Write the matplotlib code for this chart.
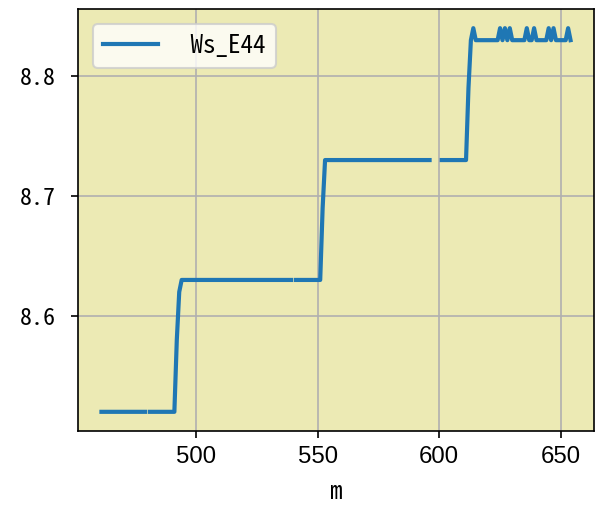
import numpy as np
import matplotlib
matplotlib.use("Agg")
import matplotlib.pyplot as plt

# =========================================================
# DATA
# =========================================================

nan = np.nan

x_m = list(range(461, 655))

# level values per position, gaps are NaN
ws_e44 = (
    [8.52] * 19            # 461-479
    + [nan]                # 480
    + [8.52] * 11          # 481-491
    + [8.58, 8.62]         # 492-493
    + [8.63] * 46          # 494-539
    + [nan]                # 540
    + [8.63] * 11          # 541-551
    + [8.69]               # 552
    + [8.73] * 44          # 553-596
    + [nan] * 4            # 597-600
    + [8.73] * 11          # 601-611
    + [8.79, 8.83, 8.84]   # 612-614
    + [8.83] * 10          # 615-624
    + [8.84, 8.83, 8.84, 8.83, 8.84]   # 625-629
    + [8.83] * 6           # 630-635
    + [8.84, 8.83, 8.83, 8.84]   # 636-639
    + [8.83] * 5           # 640-644
    + [8.84, 8.83, 8.84]   # 645-647
    + [8.83] * 5           # 648-652
    + [8.84]               # 653
    + [8.83]               # 654
)

y_ticks = [8.6, 8.7, 8.8]
x_ticks = [500, 550, 600, 650]
legend_label = " Ws_E44"
x_label = "m"

# =========================================================
# PLOT
# =========================================================

mono = ["Noto Sans Mono CJK SC", "DejaVu Sans Mono"]

fig = plt.figure(figsize=(595 / 150, 512 / 150), dpi=150)
ax = fig.add_axes([78 / 595, 81 / 512, 516 / 595, 422 / 512])

ax.set_facecolor("#ECEAB4")
ax.plot(x_m, ws_e44, color="#1f77b4", linewidth=2.0, label=legend_label)
ax.grid(True, color="#b0b0b0", linewidth=0.8)

ax.set_yticks(y_ticks)
ax.set_yticklabels([f"{v:.1f}" for v in y_ticks], family=mono, fontsize=11.5)
ax.tick_params(axis="y", pad=7)
ax.set_xticks(x_ticks)
ax.set_xticklabels([str(v) for v in x_ticks], family="Liberation Sans",
                   fontsize=11.5)

ax.set_xlabel(x_label, family=mono, fontsize=12, labelpad=6)

ax.legend(loc="upper left", prop={"family": mono, "size": 12},
          handlelength=2.2, borderaxespad=0.6)

fig.savefig("out.png", dpi=150)
